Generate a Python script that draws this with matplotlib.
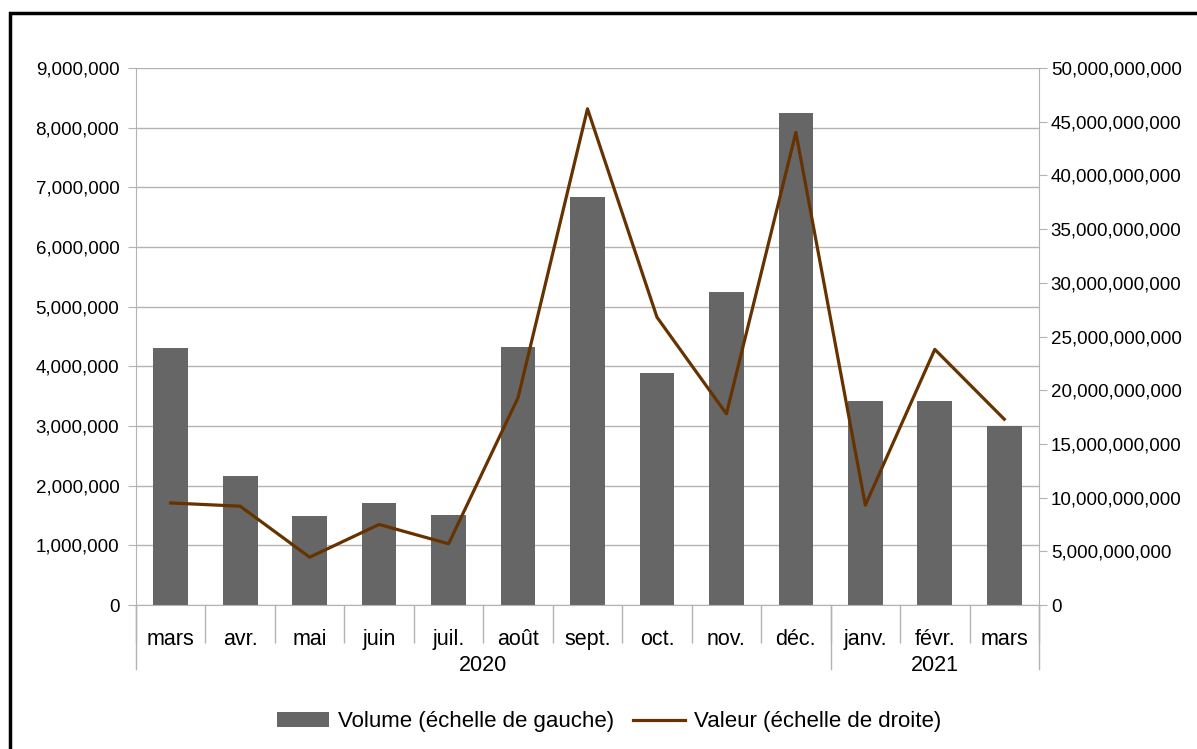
import matplotlib.pyplot as plt
from matplotlib.patches import Rectangle
from matplotlib.lines import Line2D
from matplotlib.ticker import FuncFormatter

plt.rcParams['font.family'] = ['Liberation Sans', 'DejaVu Sans']

mois = ["mars", "avr.", "mai", "juin", "juil.", "août", "sept.", "oct.",
        "nov.", "déc.", "janv.", "févr.", "mars"]
annees = ["2020"] * 10 + ["2021"] * 3
volume = [4310000, 2160000, 1490000, 1710000, 1510000, 4320000, 6840000,
          3890000, 5250000, 8250000, 3420000, 3420000, 3000000]
valeur = [9.5e9, 9.2e9, 4.45e9, 7.5e9, 5.7e9, 19.3e9, 46.2e9, 26.8e9,
          17.8e9, 44.0e9, 9.3e9, 23.8e9, 17.3e9]

gris = '#b3b3b3'
fmt = FuncFormatter(lambda v, p: '{:,.0f}'.format(v))

fig = plt.figure(figsize=(11.97, 7.49), dpi=100)
# cadre noir (bords droit et bas hors image)
fig.patches.append(Rectangle((10 / 1197, -0.05), 1.1, 1 - 13 / 749 + 0.05,
                             transform=fig.transFigure, fill=False,
                             edgecolor='black', linewidth=2.5))

ax = fig.add_axes([136 / 1197, 1 - 605 / 749, (1039 - 136) / 1197, (605 - 68) / 749])
x = list(range(len(mois)))
ax.bar(x, volume, width=0.5, color='#666666', zorder=2,
       label='Volume (échelle de gauche)')
ax.set_xlim(-0.5, len(mois) - 0.5)
ax.set_ylim(0, 9000000)
ax.set_yticks(range(0, 9000001, 1000000))
ax.yaxis.set_major_formatter(fmt)
ax.grid(axis='y', color=gris, linewidth=1, zorder=0)
ax.set_axisbelow(True)
for s in ['top', 'right']:
    ax.spines[s].set_visible(False)
for s in ['left', 'bottom']:
    ax.spines[s].set_color(gris)
ax.tick_params(axis='y', colors=gris, labelcolor='black', length=6, pad=6, labelsize=13.5)

# étiquettes de mois
ax.set_xticks(x)
ax.set_xticklabels(mois, fontsize=15.5)
ax.tick_params(axis='x', length=0, pad=17)
ax.set_xticks([i - 0.5 for i in range(len(mois) + 1)], minor=True)
ax.tick_params(axis='x', which='minor', length=27, color=gris, width=1)

# années et séparateurs longs
bornes = [0]
for i in range(1, len(annees)):
    if annees[i] != annees[i - 1]:
        bornes.append(i)
bornes.append(len(annees))
tr = ax.get_xaxis_transform()
for a, b in zip(bornes[:-1], bornes[1:]):
    ax.text((a + b - 1) / 2, -0.112, annees[a], transform=tr, ha='center',
            va='center', fontsize=15.5)
for b in bornes:
    ax.add_line(Line2D([b - 0.5, b - 0.5], [0, -0.12], transform=tr,
                       color=gris, linewidth=1, clip_on=False))

ax2 = ax.twinx()
ax2.plot(x, valeur, color='#663300', linewidth=2.3, zorder=3,
         label='Valeur (échelle de droite)')
ax2.set_ylim(0, 50e9)
ax2.set_yticks([i * 5e9 for i in range(11)])
ax2.yaxis.set_major_formatter(fmt)
for s in ['top', 'left', 'bottom']:
    ax2.spines[s].set_visible(False)
ax2.spines['right'].set_color(gris)
ax2.tick_params(axis='y', colors=gris, labelcolor='black', length=6, pad=2.5, labelsize=13.5)

h1, l1 = ax.get_legend_handles_labels()
h2, l2 = ax2.get_legend_handles_labels()
fig.legend(h1 + h2, l1 + l2, loc='center', ncol=2, frameon=False,
           bbox_to_anchor=(609 / 1197, 1 - 722 / 749), fontsize=16,
           handlelength=2.35, handleheight=0.65, handletextpad=0.38, columnspacing=0.85)

fig.savefig('out.png', dpi=100)
